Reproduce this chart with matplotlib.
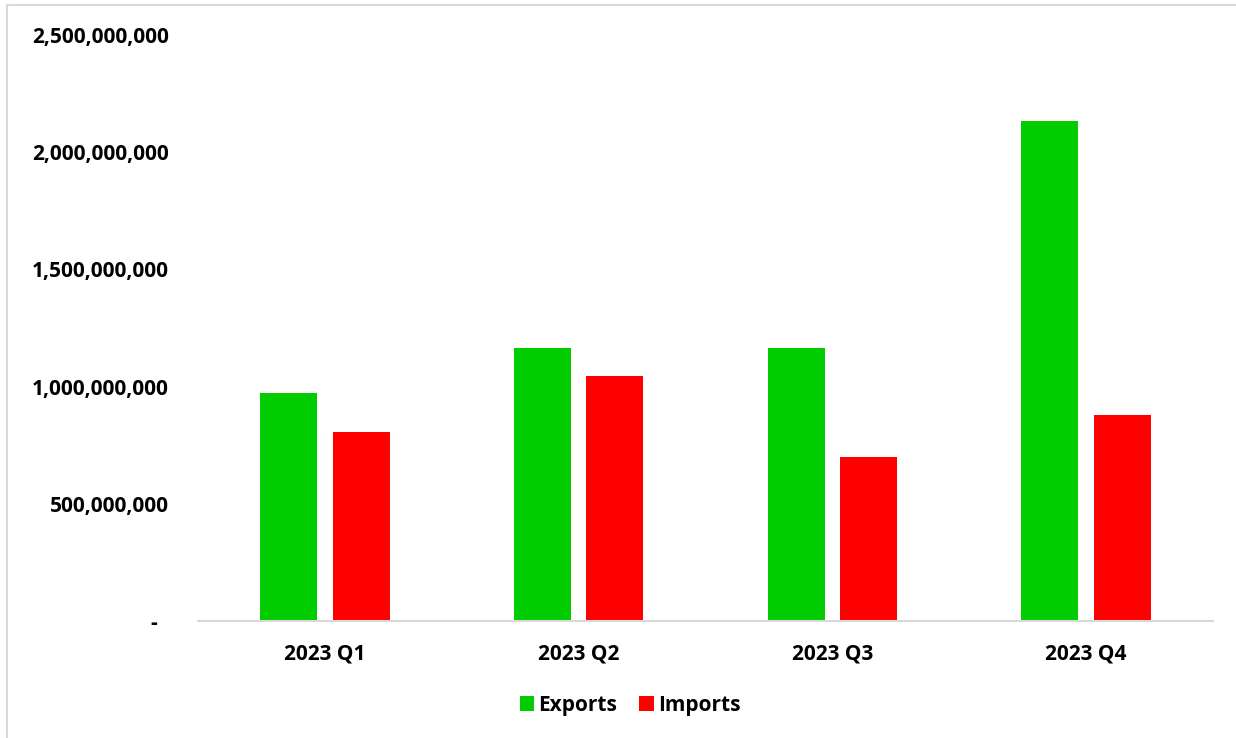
import matplotlib
matplotlib.use("Agg")
import matplotlib.pyplot as plt
import numpy as np
from matplotlib.ticker import FuncFormatter
from matplotlib.patches import Rectangle

categories = ["2023 Q1", "2023 Q2", "2023 Q3", "2023 Q4"]
exports = [973e6, 1165e6, 1165e6, 2133e6]
imports = [806e6, 1045e6, 700e6, 879e6]
series_names = ["Exports", "Imports"]

GREEN = "#00CC00"
RED = "#FF0000"

plt.rcParams["font.family"] = ["Open Sans", "DejaVu Sans"]
plt.rcParams["font.weight"] = "bold"
FS = 15

fig = plt.figure(figsize=(12.36, 7.38), dpi=100)
W, H = 1236, 738
ax = fig.add_axes([198 / W, 1 - 621 / H, (1213 - 198) / W, (621 - 35) / H])

x = np.arange(len(categories))
bw = 0.225
off = 0.143
ax.bar(x - off, exports, width=bw, color=GREEN, label=series_names[0])
ax.bar(x + off, imports, width=bw, color=RED, label=series_names[1])

ax.set_xlim(-0.5, len(categories) - 0.5)
ax.set_ylim(0, 2.5e9)
ax.set_yticks(np.arange(0, 2.5e9 + 1, 5e8))


def fmt(v, pos):
    if v == 0:
        return "-  "
    return f"{v:,.0f}"


ax.yaxis.set_major_formatter(FuncFormatter(fmt))
ax.set_xticks(x)
ax.set_xticklabels(categories)
ax.tick_params(axis="y", length=0, pad=21, labelsize=FS)
ax.tick_params(axis="x", length=0, pad=16, labelsize=FS)
for lab in ax.get_xticklabels() + ax.get_yticklabels():
    lab.set_fontweight("bold")
    lab.set_color("#000000")

for s in ["top", "right", "left"]:
    ax.spines[s].set_visible(False)
ax.spines["bottom"].set_color("#D9D9D9")
ax.spines["bottom"].set_linewidth(1.5)

# chart area border
fig.patches.append(Rectangle((7 / W, -0.05), 1.2, 1 - 5 / H + 0.05,
                             transform=fig.transFigure, fill=False,
                             edgecolor="#D9D9D9", linewidth=1.5))

leg = fig.legend(loc="center", bbox_to_anchor=(630 / W, 1 - 705 / H), ncol=2,
                 frameon=False, prop={"weight": "bold", "size": FS},
                 handlelength=0.7, handleheight=0.7, handletextpad=0.2,
                 columnspacing=1.05)

fig.savefig("out.png", dpi=100, facecolor="white")
